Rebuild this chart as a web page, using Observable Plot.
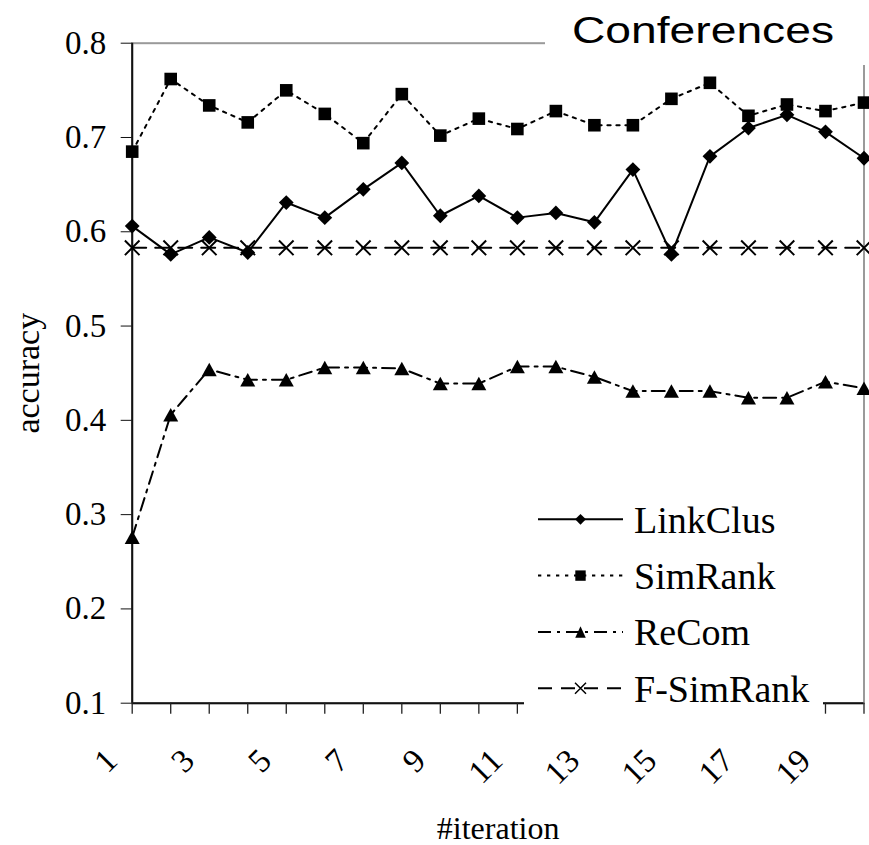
<!DOCTYPE html>
<html>
<head>
<meta charset="utf-8">
<script src="https://cdn.jsdelivr.net/npm/d3@7"></script>
<script src="https://cdn.jsdelivr.net/npm/@observablehq/plot@0.6"></script>
<style>
  html, body { margin: 0; padding: 0; background: #fff; }
  #wrap { position: relative; width: 869px; height: 845px; overflow: hidden; }
  #title { position: absolute; left: 545px; top: 0px; background: #fff; }
  #legend { position: absolute; left: 524px; top: 490px; background: #fff; }
</style>
</head>
<body>
<div id="wrap"></div>
<script>
// ---- data ----
const iterations = [1,2,3,4,5,6,7,8,9,10,11,12,13,14,15,16,17,18,19,20];
const xTickLabels = [1,3,5,7,9,11,13,15,17,19];
const yTicks = [0.1,0.2,0.3,0.4,0.5,0.6,0.7,0.8];
const seriesNames = ["LinkClus","SimRank","ReCom","F-SimRank"];
const linkClus = [0.606,0.576,0.594,0.578,0.631,0.615,0.645,0.673,0.617,0.638,0.615,0.620,0.610,0.666,0.576,0.680,0.710,0.724,0.706,0.678];
const simRank  = [0.685,0.762,0.734,0.716,0.750,0.725,0.694,0.746,0.702,0.720,0.709,0.728,0.713,0.713,0.741,0.758,0.723,0.735,0.728,0.737];
const reCom    = [0.276,0.406,0.454,0.443,0.443,0.456,0.456,0.455,0.439,0.439,0.457,0.457,0.446,0.431,0.431,0.431,0.424,0.424,0.441,0.434];
const fSimRank = [0.583,0.583,0.583,0.583,0.583,0.583,0.583,0.583,0.583,0.583,0.583,0.583,0.583,0.583,0.583,0.583,0.583,0.583,0.583,0.583];
const titleText = "Conferences";
const xLabel = "#iteration";
const yLabel = "accuracy";

// ---- styles ----
const serif = "'Liberation Serif', 'Times New Roman', Times, serif";
const sans = "'Liberation Sans', Arial, Helvetica, sans-serif";
const seriesValues = [linkClus, simRank, reCom, fSimRank];
const dashes = [null, "3.3,5.7", "13,6,3,6", "14,9"];

function diamondSym(r) { return {draw(c){ c.moveTo(0,-r); c.lineTo(r,0); c.lineTo(0,r); c.lineTo(-r,0); c.closePath(); }}; }
function squareSym(h) { return {draw(c){ c.moveTo(-h,-h); c.lineTo(h,-h); c.lineTo(h,h); c.lineTo(-h,h); c.closePath(); }}; }
function triangleSym(w, ht) { return {draw(c){ c.moveTo(0,-ht/2); c.lineTo(w/2,ht/2); c.lineTo(-w/2,ht/2); c.closePath(); }}; }
function timesSym(r) { return {draw(c){ c.moveTo(-r,-r); c.lineTo(r,r); c.moveTo(r,-r); c.lineTo(-r,r); }}; }

const chartSymbols = [diamondSym(7.4), squareSym(6.3), triangleSym(15, 13.5), timesSym(7.3)];
const filled = [true, true, true, false];

const tables = seriesValues.map((vals, s) => iterations.map((it, i) => ({iteration: it, value: vals[i], series: seriesNames[s]})));

const marks = [
  Plot.frame({stroke: "#9a9a9a", strokeWidth: 2}),
  Plot.ruleX([iterations[0]], {stroke: "#111", strokeWidth: 2}),
  Plot.ruleY([yTicks[0]], {stroke: "#111", strokeWidth: 2}),
  Plot.axisY({ticks: yTicks, tickSize: 11, tickPadding: 15, fontSize: 33, label: null,
              tickFormat: d => d.toFixed(1), stroke: "#111"}),
  Plot.axisX({ticks: iterations, tickSize: 11, tickFormat: () => "", label: null, stroke: "#222", strokeWidth: 1.3}),
  Plot.text(xTickLabels, {x: d => d, frameAnchor: "bottom", rotate: -45, textAnchor: "end", lineAnchor: "middle",
              dx: -20.5, dy: 52, fontSize: 33, fill: "#000"}),
  Plot.text([yLabel], {frameAnchor: "left", rotate: -90, textAnchor: "middle", lineAnchor: "middle",
              dx: -104, fontSize: 34, fill: "#000"}),
  Plot.text([xLabel], {frameAnchor: "bottom", textAnchor: "middle", lineAnchor: "bottom", dy: 135.3, fontSize: 32, fill: "#000"})
];
tables.forEach((t, s) => {
  marks.push(Plot.line(t, {x: "iteration", y: "value", stroke: "#000", strokeWidth: 2,
    strokeDasharray: dashes[s] || undefined}));
  marks.push(Plot.dot(t, {x: "iteration", y: "value", symbol: chartSymbols[s], r: 5,
    fill: filled[s] ? "#000" : "none", stroke: filled[s] ? "none" : "#000", strokeWidth: 2}));
});

const chart = Plot.plot({
  width: 869, height: 845,
  marginLeft: 131.7, marginRight: 5.5, marginTop: 42.7, marginBottom: 142.3,
  x: {type: "linear", domain: [1, 20]},
  y: {type: "linear", domain: [0.1, 0.8]},
  style: {fontFamily: serif, background: "#fff", color: "#000", overflow: "visible"},
  marks
});
const wrap = document.getElementById("wrap");
wrap.appendChild(chart);

// ---- title box (overlaps the top-right of the frame) ----
const tsvg = d3.create("svg").attr("id", "title").attr("width", 324).attr("height", 65);
tsvg.append("text").attr("x", 27).attr("y", 43).attr("font-family", sans).attr("font-size", 37)
  .attr("textLength", 262).attr("lengthAdjust", "spacingAndGlyphs").attr("fill", "#000").text(titleText);
wrap.appendChild(tsvg.node());

// ---- legend ----
const lsvg = d3.create("svg").attr("id", "legend").attr("width", 299).attr("height", 226);
const legSymbols = [diamondSym(5.4), squareSym(5.2), triangleSym(10.5, 11.5), timesSym(5.5)];
seriesNames.forEach((name, s) => {
  const cy = 29.3 + s * 56.3;
  const g = lsvg.append("g").attr("transform", `translate(0,${cy})`);
  g.append("line").attr("x1", 14).attr("x2", 99).attr("y1", 0).attr("y2", 0)
    .attr("stroke", "#000").attr("stroke-width", 2)
    .attr("stroke-dasharray", dashes[s] || null);
  const p = d3.path(); legSymbols[s].draw(p);
  g.append("path").attr("d", p.toString()).attr("transform", "translate(56.5,0)")
    .attr("fill", filled[s] ? "#000" : "none").attr("stroke", filled[s] ? "none" : "#000").attr("stroke-width", 1.5);
  g.append("text").attr("x", 110).attr("y", 13.4).attr("font-family", serif).attr("font-size", 38)
    .attr("fill", "#000").text(name);
});
wrap.appendChild(lsvg.node());
</script>
</body>
</html>
